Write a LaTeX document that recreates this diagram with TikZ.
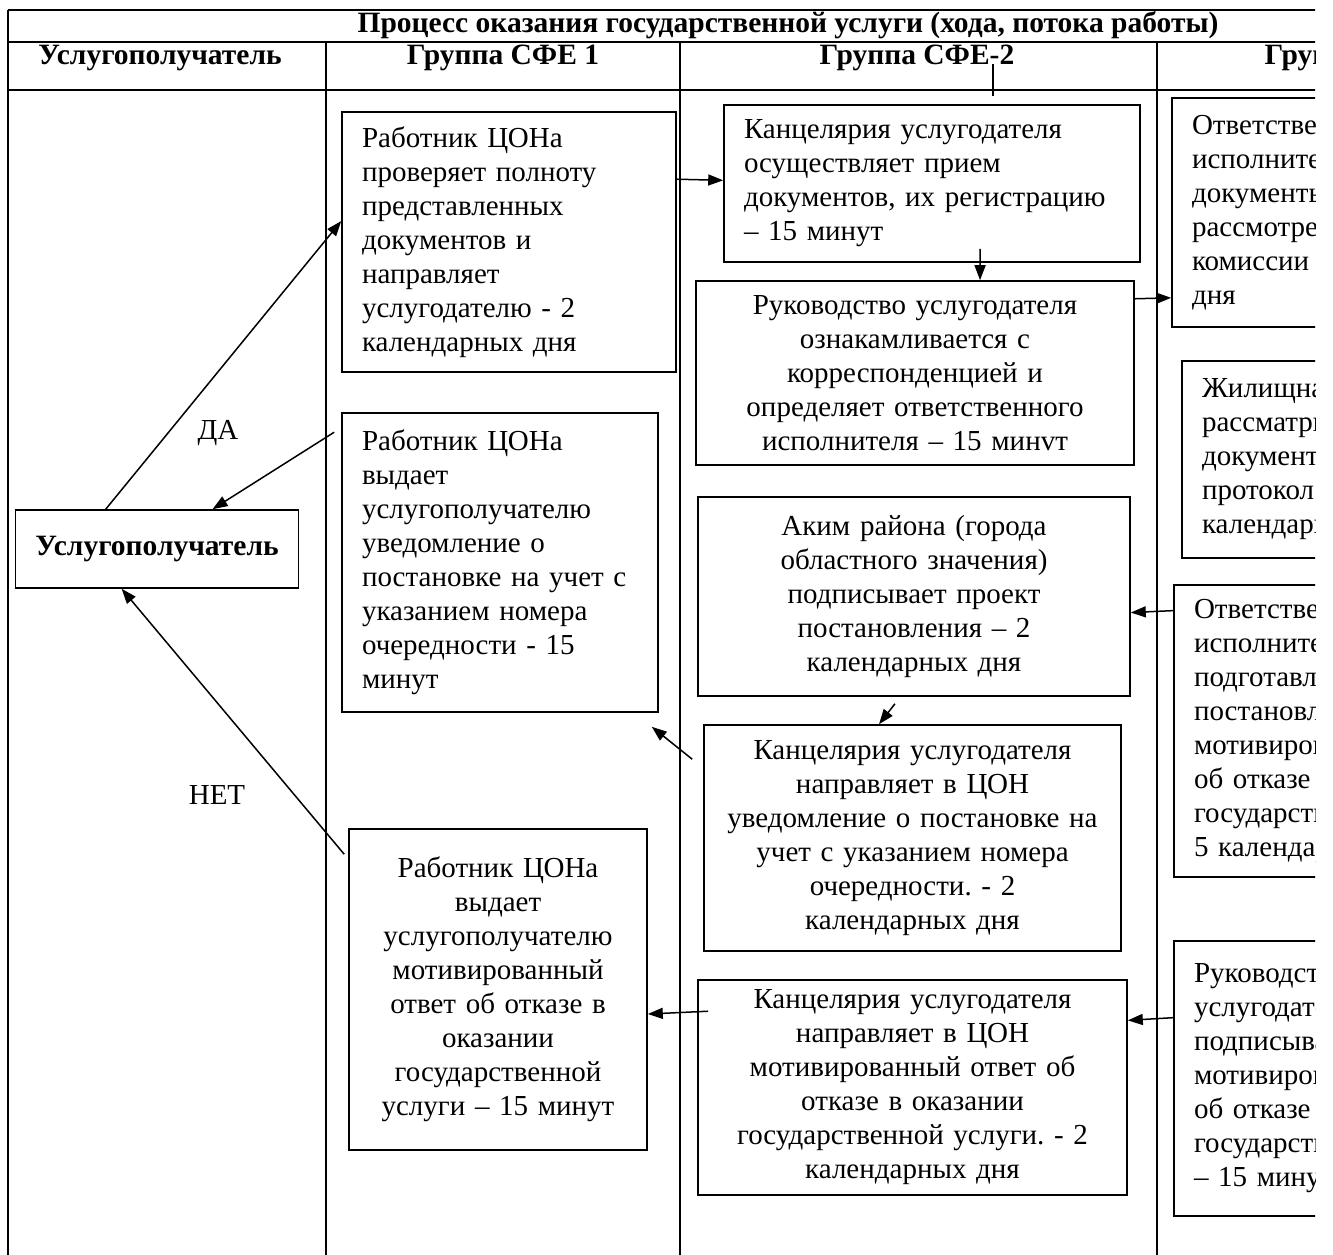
\documentclass[tikz,border=0pt]{standalone}
\usepackage{fontspec}
\setmainfont{Liberation Serif}
\usetikzlibrary{arrows.meta,calc}
\frenchspacing

\begin{document}
\begin{tikzpicture}[x=1pt,y=-1pt, line width=1.4pt,
  txt/.style={font=\fontsize{29}{34}\selectfont},
  hd/.style={font=\bfseries\fontsize{29.5}{32}\selectfont},
  box/.style={txt, draw, line width=1.6pt, inner xsep=20pt, inner ysep=0pt},
  lbox/.style={box, align=left},
  cbox/.style={box, align=center},
  arr/.style={-{Triangle[length=15pt,width=11pt]}, line width=1.5pt}]

\useasboundingbox (0,0) rectangle (1333,1254);
\clip (0,0) rectangle (1315,1254);

\draw [line width=2pt] (8,10) -- (1568,10);
\draw (8,42) -- (1568,42);
\draw [line width=2pt] (8,90) -- (1568,90);
\draw (8,10) -- (8,1260);
\foreach \x in {326,680,1157} \draw (\x,42) -- (\x,1260);
\draw (993,64) -- (993,96);

\node[hd] (title) at (788,25) {Процесс оказания государственной услуги (хода, потока работы)};
\node[hd] (h1) at (160,58) {Услугополучатель};
\node[hd] (h2) at (503,58) {Группа СФЕ 1};
\node[hd] (h3) at (917,58) {Группа СФЕ-2};
\node[hd] (h4) at (1362,58) {Группа СФЕ-3};

\node[cbox, font=\bfseries\fontsize{29.5}{34}\selectfont, minimum width=282pt, minimum height=78pt] (cl) at (157,549) {Услугополучатель};
\node[txt] (da) at (218,433) {ДА};
\node[txt] (net) at (217,795) {НЕТ};

\node[lbox, text width=294pt, minimum height=260pt] (b1) at (509,242) {Работник ЦОНа\\ проверяет полноту\\ представленных\\ документов и\\ направляет\\ услугодателю - 2\\ календарных дня};
\node[lbox, text width=276pt, minimum height=299pt] (b2) at (500,562.5) {Работник ЦОНа\\ выдает\\ услугополучателю\\ уведомление о\\ постановке на учет с\\ указанием номера\\ очередности - 15\\ минут};
\node[cbox, text width=258pt, minimum height=321pt] (b3) at (498,989.5) {Работник ЦОНа\\ выдает\\ услугополучателю\\ мотивированный\\ ответ об отказе в\\ оказании\\ государственной\\ услуги – 15 минут};

\node[lbox, text width=376pt, minimum height=157pt] (c1) at (932,183.5) {Канцелярия услугодателя\\ осуществляет прием\\ документов, их регистрацию\\ – 15 минут};
\node[cbox, text width=398pt, minimum height=184pt] (c2) at (915,373) {Руководство услугодателя\\ ознакамливается с\\ корреспонденцией и\\ определяет ответственного\\ исполнителя – 15 минvт};
\node[cbox, text width=392pt, minimum height=199pt] (c3) at (914,596.5) {Аким района (города\\ областного значения)\\ подписывает проект\\ постановления – 2\\ календарных дня};
\node[cbox, text width=377pt, minimum height=226pt] (c4) at (912.5,838) {Канцелярия услугодателя\\ направляет в ЦОН\\ уведомление о постановке на\\ учет с указанием номера\\ очередности. - 2\\ календарных дня};
\node[cbox, text width=389pt, minimum height=215pt] (c5) at (912.5,1087.5) {Канцелярия услугодателя\\ направляет в ЦОН\\ мотивированный ответ об\\ отказе в оказании\\ государственной услуги. - 2\\ календарных дня};

\node[lbox, text width=328pt, minimum height=229pt] (d1) at (1356,212.5) {Ответственный\\ исполнитель\\ документы на\\ рассмотрение\\ комиссии – 2\\ дня};
\node[lbox, text width=318pt, minimum height=197pt] (d2) at (1361,459.5) {Жилищная комиссия\\ рассматривает\\ документы и\\ протокол – 10\\ календарных дней};
\node[lbox, text width=326pt, minimum height=292pt] (d3) at (1357,731) {Ответственный\\ исполнитель\\ подготавливает\\ постановление или\\ мотивированный ответ\\ об отказе в оказании\\ государственной услуги –\\ 5 календарных дней};
\node[lbox, text width=326pt, minimum height=275pt] (d4) at (1357,1078.5) {Руководство\\ услугодателя\\ подписывает\\ мотивированный ответ\\ об отказе в оказании\\ государственной услуги\\ – 15 минут};

\draw[arr] ($(cl.north west)!.32!(cl.north east)$) -- ($(b1.north west)!.42!(b1.south west)$);
\draw[arr] ($(b2.north west)+(-7,20)$) -- ($(cl.north west)!.695!(cl.north east)$);
\draw[arr] ($(b3.north west)+(-4,26)$) -- ($(cl.south west)!.376!(cl.south east)$);
\draw[arr] ($(b1.north east)!.26!(b1.south east)$) -- ($(c1.north west)!.48!(c1.south west)$);
\draw[arr] ($(c1.south west)!.615!(c1.south east)+(0,-14)$) -- ($(c2.north west)!.648!(c2.north east)$);
\draw[arr] ($(c2.north east)!.1!(c2.south east)$) -- ($(d1.north west)!.87!(d1.south west)$);
\draw[arr] ($(d3.north west)!.09!(d3.south west)$) -- ($(c3.north east)!.58!(c3.south east)$);
\draw[arr] ($(c3.south west)!.456!(c3.south east)+(0,7)$) -- ($(c4.north west)!.42!(c4.north east)$);
\draw[arr] ($(c4.north west)+(-11,35)$) -- ($(b2.south east)+(-7,14)$);
\draw[arr] ($(c5.north west)+(11,32)$) -- ($(b3.north east)!.576!(b3.south east)$);
\draw[arr] ($(d4.north west)!.28!(d4.south west)$) -- ($(c5.north east)!.19!(c5.south east)$);

\end{tikzpicture}
\end{document}
